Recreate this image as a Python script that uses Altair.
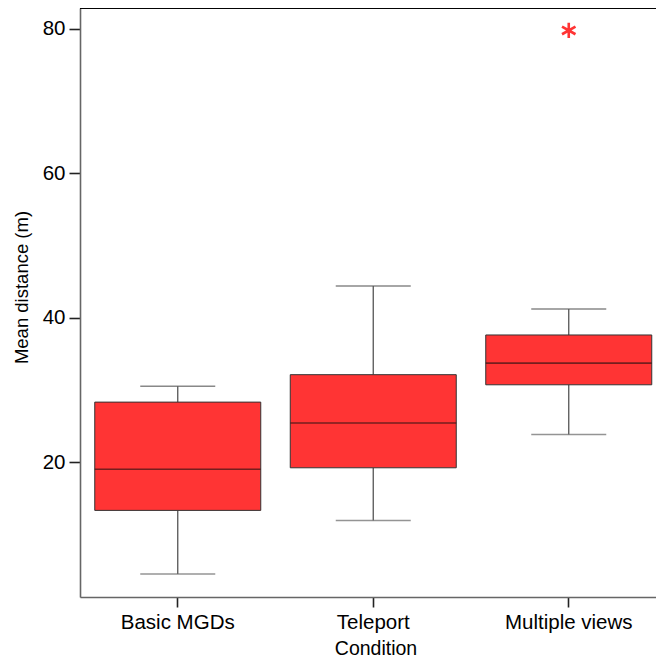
import altair as alt
import pandas as pd

conditions = ["Basic MGDs", "Teleport", "Multiple views"]
lower = [4.5, 11.9, 23.8]
q1 = [13.3, 19.2, 30.7]
median = [19.0, 25.4, 33.7]
q3 = [28.3, 32.1, 37.6]
upper = [30.5, 44.4, 41.2]

outlier_cond = ["Multiple views"]
outlier_val = [79.8]

y_ticks = [20, 40, 60, 80]

df = pd.DataFrame({"cond": conditions, "lower": lower, "q1": q1,
                   "median": median, "q3": q3, "upper": upper})
odf = pd.DataFrame({"cond": outlier_cond, "val": outlier_val})

FONT = "Liberation Sans"
RED = "#ff3434"

xscale = alt.Scale(domain=conditions, range=[0, 586.5], paddingInner=0, paddingOuter=0)
yscale = alt.Scale(domain=[1.3, 82.9], nice=False, zero=False)

xaxis = alt.Axis(title="Condition", labelAngle=0, tickSize=10, labelPadding=5,
                 labelFontSize=20.5, titleFontSize=19.5, titleFontWeight="normal",
                 domainColor="#666666", domainWidth=1.6, tickColor="#222222", tickWidth=1.6,
                 labelColor="black", titleColor="black", labelFont=FONT, titleFont=FONT,
                 titleX=295.5, titleY=57, titleBaseline="alphabetic", titleAlign="center",
                 grid=False)
yaxis = alt.Axis(title="Mean distance (m)", values=y_ticks, tickSize=11, labelPadding=4,
                 labelFontSize=20.5, titleFontSize=18.5, titleFontWeight="normal",
                 domainColor="#666666", domainWidth=1.6, tickColor="#222222", tickWidth=1.6,
                 labelColor="black", titleColor="black", labelFont=FONT, titleFont=FONT,
                 titleX=-53, titleY=279, titleAngle=270, titleBaseline="alphabetic",
                 titleAlign="center", grid=False)


def X():
    return alt.X("cond:N", sort=conditions, scale=xscale, axis=xaxis)


def Y(field):
    return alt.Y(f"{field}:Q", scale=yscale, axis=yaxis)


base = alt.Chart(df)

whisk_lo = base.mark_rule(color="#555555", strokeWidth=1.3).encode(
    x=X(), y=Y("lower"), y2="q1:Q")
whisk_hi = base.mark_rule(color="#555555", strokeWidth=1.3).encode(
    x=X(), y=Y("q3"), y2="upper:Q")
cap_lo = base.mark_tick(color="#666666", size=75, thickness=1.5).encode(x=X(), y=Y("lower"))
cap_hi = base.mark_tick(color="#555555", size=75, thickness=1.5).encode(x=X(), y=Y("upper"))
box = base.mark_bar(color=RED, size=166, stroke="#333333", strokeWidth=1).encode(
    x=X(), y=Y("q1"), y2="q3:Q")
med = base.mark_tick(color="#3a1515", size=166, thickness=1.6).encode(x=X(), y=Y("median"))

star = "M0,-1L0,1M-0.87,-0.5L0.87,0.5M-0.87,0.5L0.87,-0.5"
out = alt.Chart(odf).mark_point(shape=star, size=240, stroke=RED, strokeWidth=2.6,
                                filled=False, opacity=1).encode(
    x=alt.X("cond:N", sort=conditions, scale=xscale, axis=xaxis),
    y=alt.Y("val:Q", scale=yscale, axis=yaxis))

top = alt.Chart(df).mark_rule(color="black", strokeWidth=1.6).encode(
    x=alt.value(0), x2=alt.value(586.5), y=alt.value(0))

chart = alt.layer(whisk_lo, whisk_hi, cap_lo, cap_hi, box, med, out, top).properties(
    width=576, height=589,
    autosize=alt.AutoSizeParams(type="none"),
    padding={"left": 72, "top": 0, "right": 0, "bottom": 63},
).configure_view(stroke=None).configure(font=FONT)

chart.save("out.html", embed_options={"renderer": "svg", "actions": False})
